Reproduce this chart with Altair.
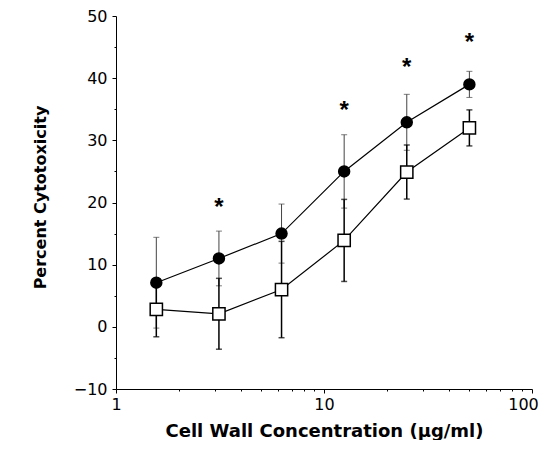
import altair as alt
import pandas as pd

conc = [1.5625, 3.125, 6.25, 12.5, 25, 50]
circle_mean = [7.1, 11.0, 15.0, 25.0, 32.9, 39.0]
circle_err = [7.3, 4.4, 4.75, 5.9, 4.5, 2.1]
square_mean = [2.8, 2.1, 6.0, 13.9, 24.9, 32.0]
square_err = [4.4, 5.7, 7.75, 6.6, 4.35, 2.9]
star_conc = [3.125, 12.5, 25, 50]
star_y = [19.9, 35.5, 42.4, 46.4]

x_major = [1, 10]
x_end = [100]
x_minor = [2, 3, 4, 5, 6, 7, 8, 9, 20, 30, 40, 50, 60, 70, 80, 90]
y_major = [-10, 0, 10, 20, 30, 40, 50]
y_minor = [-5, 5, 15, 25, 35, 45]

rows = []
for s, m, e in (("circle", circle_mean, circle_err), ("square", square_mean, square_err)):
    for c, v, d in zip(conc, m, e):
        rows.append({"series": s, "conc": c, "val": v, "lo": v - d, "hi": v + d})
df = pd.DataFrame(rows)
stars = pd.DataFrame({"conc": star_conc, "y": star_y})

FONT = "DejaVu Sans"
STAR_FONT = "Liberation Sans"
xs = alt.Scale(type="log", domain=[1, 100], nice=False)
ys = alt.Scale(domain=[-10, 50], nice=False, zero=False)

x_noaxis = alt.X("conc:Q", scale=xs, axis=None)
y_noaxis = alt.Y("val:Q", scale=ys, axis=None)

base = alt.Chart(df)

def series(name, fill, stroke_err, err_w, shape, size):
    d = base.transform_filter(alt.datum.series == name)
    line = d.mark_line(color="black", strokeWidth=1.2).encode(x=x_noaxis, y=y_noaxis)
    err = d.mark_rule(color=stroke_err, strokeWidth=err_w).encode(
        x=x_noaxis, y=alt.Y("lo:Q", scale=ys, axis=None), y2="hi:Q")
    cap_lo = d.mark_tick(orient="horizontal", size=6, thickness=err_w, color=stroke_err).encode(
        x=x_noaxis, y=alt.Y("lo:Q", scale=ys, axis=None))
    cap_hi = d.mark_tick(orient="horizontal", size=6, thickness=err_w, color=stroke_err).encode(
        x=x_noaxis, y=alt.Y("hi:Q", scale=ys, axis=None))
    pts = d.mark_point(shape=shape, filled=True, fill=fill, stroke="black",
                       strokeWidth=1.5, size=size, opacity=1).encode(x=x_noaxis, y=y_noaxis)
    return line, err, cap_lo, cap_hi, pts

c_line, c_err, c_lo, c_hi, c_pts = series("circle", "black", "#444444", 1, "circle", 120)
s_line, s_err, s_lo, s_hi, s_pts = series("square", "white", "black", 1.5, "square", 150)

major_axes = base.mark_point(opacity=0).encode(
    x=alt.X("conc:Q", scale=xs,
            axis=alt.Axis(orient="bottom", values=x_major,
                          title="Cell Wall Concentration (μg/ml)",
                          format="~g", tickSize=4, labelPadding=3,
                          labelFontSize=16, labelFont=FONT, labelColor="black",
                          titleFont=FONT, titleFontSize=18, titleFontWeight="bold",
                          titleColor="black", titleY=47, titleBaseline="alphabetic",
                          grid=False, domainColor="black", tickColor="black",
                          labelFlush=False)),
    y=alt.Y("val:Q", scale=ys,
            axis=alt.Axis(orient="left", values=y_major, title="Percent Cytotoxicity",
                          tickSize=4, labelPadding=5, labelFontSize=16,
                          labelFont=FONT, labelColor="black",
                          titleFont=FONT, titleFontSize=16, titleFontWeight="bold",
                          titleColor="black", titleX=-71, titleY=181,
                          titleBaseline="alphabetic", grid=False,
                          domainColor="black", tickColor="black")),
)

end_axis = base.mark_point(opacity=0).encode(
    x=alt.X("conc:Q", scale=xs,
            axis=alt.Axis(orient="bottom", values=x_end, title=None, format="~g",
                          tickSize=4, labelPadding=3, labelOffset=-9,
                          labelFontSize=16, labelFont=FONT, labelColor="black",
                          domain=False, grid=False, tickColor="black",
                          labelFlush=False)),
    y=y_noaxis,
)

minor_axes = base.mark_point(opacity=0).encode(
    x=alt.X("conc:Q", scale=xs,
            axis=alt.Axis(orient="bottom", values=x_minor, labels=False, title=None,
                          tickSize=2, domain=False, grid=False, tickColor="black")),
    y=alt.Y("val:Q", scale=ys,
            axis=alt.Axis(orient="left", values=y_minor, labels=False, title=None,
                          tickSize=2, domain=False, grid=False, tickColor="black")),
)

star_layer = alt.Chart(stars).mark_text(
    text="*", font=STAR_FONT, fontSize=24, fontWeight="bold", color="black",
    baseline="middle", align="center", dy=5).encode(
    x=alt.X("conc:Q", scale=xs, axis=None),
    y=alt.Y("y:Q", scale=ys, axis=None))

chart = alt.layer(
    major_axes, end_axis, minor_axes,
    c_line, s_line,
    c_err, c_lo, c_hi, s_err, s_lo, s_hi,
    c_pts, s_pts, star_layer,
).resolve_axis(x="independent", y="independent").properties(
    width=416, height=373,
    autosize=alt.AutoSizeParams(type="none"),
    padding={"left": 108, "top": 8, "right": 8, "bottom": 51},
    background="white",
).configure_view(stroke=None)

chart.save("out.html", embed_options={"renderer": "svg", "actions": False})
